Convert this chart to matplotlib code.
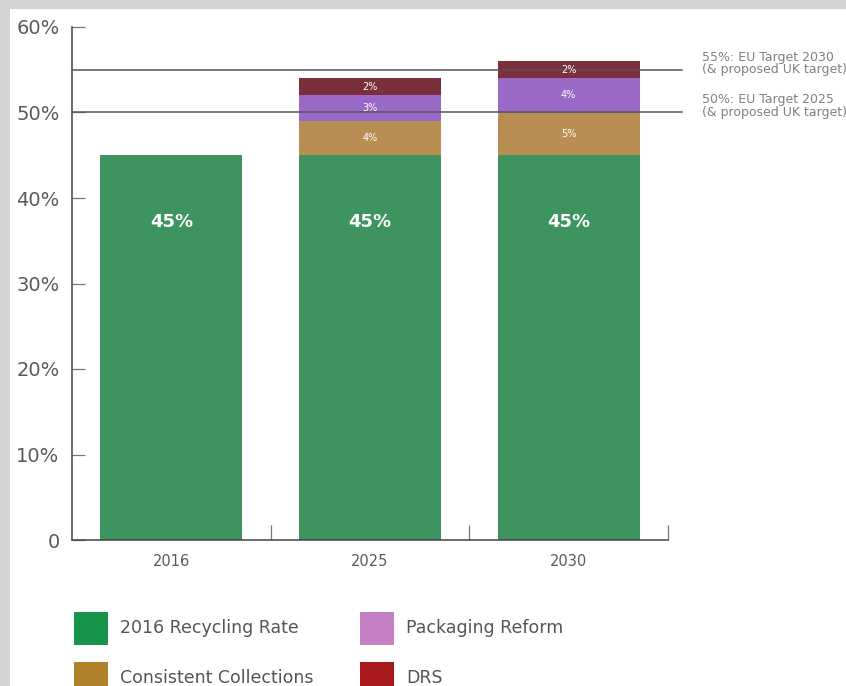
import numpy as np
import matplotlib
matplotlib.use('Agg')
import matplotlib.pyplot as plt
from matplotlib.patches import Rectangle

years = ['2016', '2025', '2030']
base_rate = [45, 45, 45]
collections = [0, 4, 5]
packaging = [0, 3, 4]
drs = [0, 2, 2]

series_names = ['2016 Recycling Rate', 'Consistent Collections', 'Packaging Reform', 'DRS']
bar_colors = ['#3e9460', '#b98e52', '#9a68c6', '#7b2f3a']
key_colors = ['#17944b', '#b0812b', '#c47fc5', '#a9191c']

targets = [50, 55]
target_labels = ['50%: EU Target 2025\n(& proposed UK target)',
                 '55%: EU Target 2030\n(& proposed UK target)']

plt.rcParams['font.family'] = ['DejaVu Sans']

W, H = 846, 686
fig = plt.figure(figsize=(W / 100, H / 100), dpi=100, facecolor='#d4d4d4')
fig.patches.append(Rectangle((10 / W, 0), 1, (H - 9) / H, transform=fig.transFigure,
                             facecolor='white', edgecolor='none', zorder=-5))

ax = fig.add_axes([72 / W, (H - 540) / H, (668 - 72) / W, (540 - 27) / H])
ax.set_facecolor('none')

x = np.arange(len(years))
width = 0.715
bottom = np.zeros(len(years))
for vals, color in zip([base_rate, collections, packaging, drs], bar_colors):
    vals = np.array(vals, dtype=float)
    ax.bar(x, vals, width, bottom=bottom, color=color, zorder=2)
    for i, v in enumerate(vals):
        if v == 0:
            continue
        if v >= 10:
            # big label sits in the upper part of the base bar
            ax.text(x[i], 37.2, '%d%%' % v, ha='center', va='center',
                    color='white', fontsize=13, fontweight='bold', zorder=4)
        else:
            ax.text(x[i], bottom[i] + v / 2, '%d%%' % v, ha='center', va='center',
                    color='white', fontsize=7, zorder=4)
    bottom += vals

# target lines with their notes on the right
for t, lab in zip(targets, target_labels):
    ax.plot([-0.5, 2.57], [t, t], color='#555555', lw=1.1, clip_on=False, zorder=3)
    ax.text(2.67, t + 0.75, lab, ha='left', va='center', fontsize=9,
            color='#808080', linespacing=0.92, clip_on=False)

ax.set_xlim(-0.5, 2.5)
ax.set_ylim(0, 60)
ax.spines['top'].set_visible(False)
ax.spines['right'].set_visible(False)
for s in ['left', 'bottom']:
    ax.spines[s].set_color('#444444')
    ax.spines[s].set_linewidth(1.1)

ax.set_yticks(np.arange(0, 61, 10))
ax.set_yticklabels(['0'] + ['%d%%' % v for v in range(10, 61, 10)])
ax.tick_params(axis='y', direction='in', length=9, width=0.9, color='#777777',
               labelsize=14, labelcolor='#5a5a5a', pad=9)

ax.set_xticks([0.5, 1.5, 2.5])
ax.set_xticklabels([])
ax.set_xticks(x, minor=True)
ax.set_xticklabels(years, minor=True)
ax.tick_params(axis='x', which='major', direction='in', length=11, width=0.9, color='#777777')
ax.tick_params(axis='x', which='minor', length=0, labelsize=10.5, labelcolor='#5a5a5a', pad=10)

# legend drawn as a 2x2 grid of colour keys
key_pos = [(74, 612), (74, 662), (360, 612), (360, 662)]
for name, color, (px, py) in zip(series_names, key_colors, key_pos):
    fig.patches.append(Rectangle((px / W, (H - py - 33) / H), 34 / W, 33 / H,
                                 transform=fig.transFigure, facecolor=color,
                                 edgecolor='none', zorder=2))
    fig.text((px + 46) / W, (H - py - 16) / H, name, ha='left', va='center',
             fontsize=12.5, color='#555555')

fig.savefig('out.png', dpi=100, facecolor=fig.get_facecolor())
